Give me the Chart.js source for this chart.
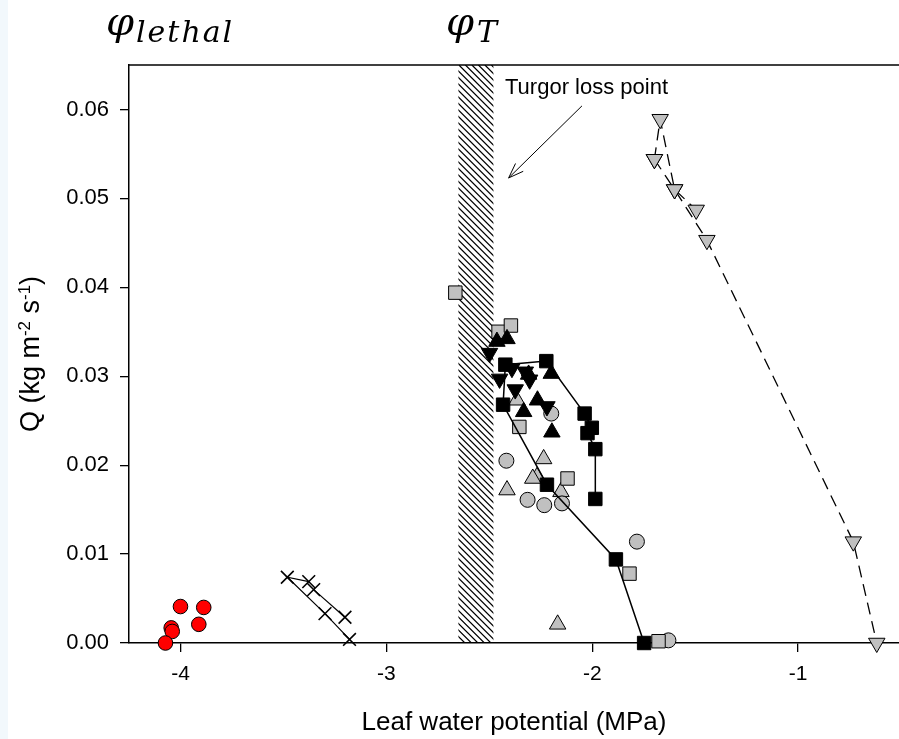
<!DOCTYPE html>
<html>
<head>
<meta charset="utf-8">
<script src="https://cdn.jsdelivr.net/npm/chart.js@4.4.1/dist/chart.umd.min.js"></script>
<style>
html, body { margin: 0; padding: 0; background: #fff; overflow: hidden; }
#wrap { position: relative; width: 899px; height: 739px;
        background: linear-gradient(to right, #f2f8fc 0, #f2f8fc 8px, #fff 8px); }
canvas { display: block; }
</style>
</head>
<body>
<div id="wrap"><canvas id="chart" width="899" height="739"></canvas></div>
<script>
"use strict";

// x = leaf water potential (MPa), y = Q (kg m-2 s-1)
var xTicks = [-4, -3, -2, -1];
var yTicks = [0, 0.01, 0.02, 0.03, 0.04, 0.05, 0.06];

var redCircleX = [-4.000, -3.887, -3.911, -4.045, -4.040, -4.073];
var redCircleY = [0.0041, 0.0040, 0.0021, 0.0017, 0.0013, 0.0000];

// crosses, two lines
var crossAX = [-3.377, -3.481, -3.298, -3.179];
var crossAY = [0.0069, 0.0074, 0.0033, 0.0004];
var crossBX = [-3.353, -3.201];
var crossBY = [0.0060, 0.0029];

// grey down triangles, dashed lines
var greyDownAX = [-1.698, -1.670, -1.600, -1.443, -0.732, -0.618];
var greyDownAY = [0.0544, 0.0589, 0.0510, 0.0453, 0.0114, 0.0000];
var greyDownBX = [-1.698, -1.600, -1.495];
var greyDownBY = [0.0544, 0.0510, 0.0487];

// black squares, solid line
var blackSquareX = [-1.985, -1.985, -2.023, -2.002, -2.037, -2.223, -2.422, -2.433, -2.220, -1.885, -1.748];
var blackSquareY = [0.0162, 0.0218, 0.0236, 0.0242, 0.0258, 0.0317, 0.0313, 0.0268, 0.0178, 0.0094, 0.0000];

var greySquareX = [-2.665, -2.455, -2.395, -2.354, -2.120, -1.819, -1.678];
var greySquareY = [0.0394, 0.0350, 0.0357, 0.0243, 0.0185, 0.0078, 0.0002];

var greyCircleX = [-2.199, -2.417, -2.314, -2.233, -2.147, -1.783, -1.630];
var greyCircleY = [0.0258, 0.0205, 0.0161, 0.0155, 0.0157, 0.0114, 0.0003];

var greyUpX = [-2.366, -2.236, -2.268, -2.289, -2.414, -2.152, -2.168];
var greyUpY = [0.0273, 0.0207, 0.0187, 0.0185, 0.0172, 0.0170, 0.0021];

var blackUpX = [-2.463, -2.414, -2.199, -2.309, -2.266, -2.333, -2.196];
var blackUpY = [0.0339, 0.0342, 0.0303, 0.0302, 0.0273, 0.0260, 0.0237];

var blackDownX = [-2.499, -2.390, -2.325, -2.304, -2.450, -2.374, -2.220];
var blackDownY = [0.0326, 0.0309, 0.0305, 0.0296, 0.0297, 0.0285, 0.0266];

// turgor loss point band and arrow
var tlpBand = [-2.65, -2.48];
var arrowFrom = [-2.05, 0.0604];
var arrowTo = [-2.406, 0.0523];

var FONT = '"Liberation Sans", Arial, sans-serif';
var SERIF = '"DejaVu Serif", "Liberation Serif", serif';
var GREY = '#c0c0c0';

function pts(xs, ys) {
    return xs.map(function (x, i) { return { x: x, y: ys[i] }; });
}

function marks(label, xs, ys, style) {
    var ds = {
        label: label,
        data: pts(xs, ys),
        showLine: false,
        clip: false,
        borderColor: '#000',
        borderWidth: 1,
        pointBorderColor: '#000',
        pointBorderWidth: 1,
        pointRadius: 8,
        pointHoverRadius: 8
    };
    for (var k in style) { ds[k] = style[k]; }
    return ds;
}

// draw text letter by letter with extra spacing
function spaced(ctx, text, x, y, gap) {
    for (var i = 0; i < text.length; i++) {
        ctx.fillText(text[i], x, y);
        x += ctx.measureText(text[i]).width + gap;
    }
}

var decor = {
    id: 'decor',
    beforeDatasetsDraw: function (chart) {
        var ctx = chart.ctx, a = chart.chartArea;
        var xs = chart.scales.x;
        var l = xs.getPixelForValue(tlpBand[0]), r = xs.getPixelForValue(tlpBand[1]);
        var h = a.bottom - a.top;
        ctx.save();
        ctx.beginPath();
        ctx.rect(l, a.top, r - l, h);
        ctx.clip();
        ctx.strokeStyle = '#000';
        ctx.lineWidth = 1.2;
        ctx.beginPath();
        for (var x = l - h; x < r; x += 6.5) {
            ctx.moveTo(x, a.top);
            ctx.lineTo(x + h, a.bottom);
        }
        ctx.stroke();
        ctx.restore();
    },
    afterDraw: function (chart) {
        var ctx = chart.ctx, a = chart.chartArea;
        var xs = chart.scales.x, ys = chart.scales.y;
        ctx.save();

        // top frame
        ctx.strokeStyle = '#000';
        ctx.lineWidth = 1.5;
        ctx.beginPath();
        ctx.moveTo(a.left, a.top);
        ctx.lineTo(a.right, a.top);
        ctx.stroke();

        // arrow
        var x0 = xs.getPixelForValue(arrowFrom[0]), y0 = ys.getPixelForValue(arrowFrom[1]);
        var x1 = xs.getPixelForValue(arrowTo[0]), y1 = ys.getPixelForValue(arrowTo[1]);
        var ang = Math.atan2(y1 - y0, x1 - x0);
        ctx.lineWidth = 1;
        ctx.beginPath();
        ctx.moveTo(x0, y0);
        ctx.lineTo(x1, y1);
        ctx.moveTo(x1 - 16 * Math.cos(ang - 0.35), y1 - 16 * Math.sin(ang - 0.35));
        ctx.lineTo(x1, y1);
        ctx.lineTo(x1 - 16 * Math.cos(ang + 0.35), y1 - 16 * Math.sin(ang + 0.35));
        ctx.stroke();

        ctx.fillStyle = '#000';
        ctx.textBaseline = 'alphabetic';
        ctx.textAlign = 'left';
        ctx.font = '22px ' + FONT;
        ctx.fillText('Turgor loss point', 505, 94);

        // x title
        ctx.textAlign = 'center';
        ctx.font = '26px ' + FONT;
        ctx.fillText('Leaf water potential (MPa)', (a.left + a.right) / 2, 730);

        // y title with superscripts
        var parts = [['Q (kg m', 0], ['-2', 1], [' s', 0], ['-1', 1], [')', 0]];
        var big = '27px ' + FONT, small = '17px ' + FONT;
        var total = 0;
        parts.forEach(function (p) {
            ctx.font = p[1] ? small : big;
            total += ctx.measureText(p[0]).width;
        });
        ctx.translate(30, (a.top + a.bottom) / 2);
        ctx.rotate(-Math.PI / 2);
        ctx.textAlign = 'left';
        var cx = -total / 2;
        parts.forEach(function (p) {
            ctx.font = p[1] ? small : big;
            ctx.fillText(p[0], cx, p[1] ? 0 : 9);
            cx += ctx.measureText(p[0]).width;
        });
        ctx.setTransform(1, 0, 0, 1, 0, 0);

        // phi labels
        var phiFont = 'italic 40px ' + SERIF;
        var subFont = 'italic 30px ' + SERIF;
        ctx.textAlign = 'left';
        ctx.font = phiFont;
        ctx.fillText('\u03c6', 106, 35);
        var w = ctx.measureText('\u03c6').width;
        ctx.font = subFont;
        spaced(ctx, 'lethal', 106 + w + 2, 42, 2);
        ctx.font = phiFont;
        ctx.fillText('\u03c6', 446, 35);
        w = ctx.measureText('\u03c6').width;
        ctx.font = subFont;
        ctx.fillText('T', 446 + w + 3, 42);

        ctx.restore();
    }
};

var datasets = [
    marks('red', redCircleX, redCircleY, { pointStyle: 'circle', pointRadius: 7.3, pointBackgroundColor: '#ff0000' }),
    marks('crossA', crossAX, crossAY, { pointStyle: 'crossRot', pointRadius: 9, pointBorderWidth: 1.6, showLine: true, borderWidth: 1.2 }),
    marks('crossB', crossBX, crossBY, { pointStyle: 'crossRot', pointRadius: 9, pointBorderWidth: 1.6, showLine: true, borderWidth: 1.2 }),
    marks('greyDownA', greyDownAX, greyDownAY, { pointStyle: 'triangle', rotation: 180, pointRadius: 9.5, pointBackgroundColor: GREY, showLine: true, borderWidth: 1.3, borderDash: [12, 7] }),
    marks('greyDownB', greyDownBX, greyDownBY, { pointStyle: 'triangle', rotation: 180, pointRadius: 9.5, pointBackgroundColor: GREY, showLine: true, borderWidth: 1.3, borderDash: [12, 7] }),
    marks('blackSquare', blackSquareX, blackSquareY, { pointStyle: 'rect', pointRadius: 9.5, pointBackgroundColor: '#000', showLine: true, borderWidth: 1.5 }),
    marks('blackUp', blackUpX, blackUpY, { pointStyle: 'triangle', pointRadius: 9.5, pointBackgroundColor: '#000' }),
    marks('blackDown', blackDownX, blackDownY, { pointStyle: 'triangle', rotation: 180, pointRadius: 9.5, pointBackgroundColor: '#000' }),
    marks('greySquare', greySquareX, greySquareY, { pointStyle: 'rect', pointRadius: 9.5, pointBackgroundColor: GREY }),
    marks('greyCircle', greyCircleX, greyCircleY, { pointStyle: 'circle', pointRadius: 7.5, pointBackgroundColor: GREY }),
    marks('greyUp', greyUpX, greyUpY, { pointStyle: 'triangle', pointRadius: 9.5, pointBackgroundColor: GREY })
];

new Chart(document.getElementById('chart'), {
    type: 'scatter',
    data: { datasets: datasets },
    options: {
        responsive: false,
        animation: false,
        layout: { autoPadding: false, padding: { left: 0, right: 0, top: 65, bottom: 0 } },
        elements: { line: { tension: 0 } },
        plugins: { legend: { display: false }, tooltip: { enabled: false } },
        scales: {
            x: {
                type: 'linear',
                min: -4.25,
                max: -0.51,
                afterFit: function (s) { s.height = 96; s.paddingLeft = 0; s.paddingRight = 0; },
                afterBuildTicks: function (s) { s.ticks = xTicks.map(function (v) { return { value: v }; }); },
                grid: { drawOnChartArea: false, drawTicks: true, tickLength: 9, color: '#000', lineWidth: 1.3 },
                border: { display: true, color: '#000', width: 1.5 },
                ticks: { color: '#000', padding: 10, font: { family: FONT, size: 21 }, callback: function (v) { return v; } }
            },
            y: {
                type: 'linear',
                min: 0,
                max: 0.065,
                afterFit: function (s) { s.width = 129; s.paddingTop = 0; s.paddingBottom = 0; },
                afterBuildTicks: function (s) { s.ticks = yTicks.map(function (v) { return { value: v }; }); },
                grid: { drawOnChartArea: false, drawTicks: true, tickLength: 9, color: '#000', lineWidth: 1.3 },
                border: { display: true, color: '#000', width: 1.5 },
                ticks: { color: '#000', padding: 11, font: { family: FONT, size: 22 }, callback: function (v) { return v.toFixed(2); } }
            }
        }
    },
    plugins: [decor]
});
</script>
</body>
</html>
